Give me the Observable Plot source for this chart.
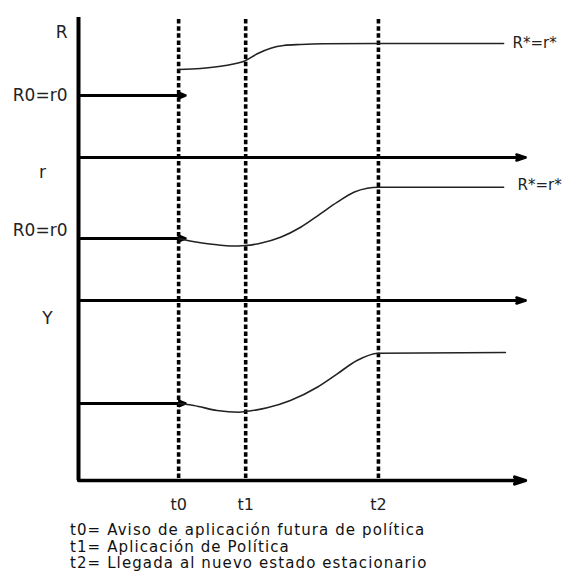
<!DOCTYPE html>
<html>
<head>
<meta charset="utf-8">
<script src="https://cdn.jsdelivr.net/npm/d3@7"></script>
<script src="https://cdn.jsdelivr.net/npm/@observablehq/plot@0.6"></script>
<style>
  body { margin: 0; background: #fff; }
  #chart svg { display: block; }
  #caption { margin: 7px 0 0 70px; font: 15px "DejaVu Sans", sans-serif; letter-spacing: 1.1px; line-height: 16.5px; color: #111; }
</style>
</head>
<body>
<div id="chart"></div>
<div id="caption"></div>
<script>
// ---- data ----
const tTimes = [22.4, 37.4, 67.1];
const tLabels = ["t0", "t1", "t2"];
const captionLines = [
  "t0= Aviso de aplicación futura de política",
  "t1= Aplicación de Política",
  "t2= Llegada al nuevo estado estacionario"
];

// Panel R
const R0 = 62;
const R_time  = [22.4, 27.3, 32.9, 37.4, 40.0, 43.0, 45.9, 49.7, 54.8, 67.1, 95.1];
const R_value = [88, 89, 92, 97, 103.7, 109.3, 112, 113, 113.7, 114, 114];

// Panel r
const r0 = 62;
const r_time  = [22.4, 23.6, 27.3, 31.0, 34.0, 37.4, 40.7, 45.2, 49.7, 54.1, 57.9, 61.6, 64.6, 67.1, 95.1];
const r_value = [62, 60.7, 57.7, 55.7, 54.5, 55, 57.3, 63.3, 73.3, 86.7, 98.3, 108.3, 112.3, 113.3, 113.3];

// Panel Y
const Y0 = 77;
const Y_time  = [22.4, 25.8, 31.0, 35.9, 37.4, 42.2, 47.4, 53.4, 57.9, 62.3, 67.0, 95.5];
const Y_value = [77, 75, 70, 68.3, 69, 72.7, 80, 93.3, 106.7, 120, 127.3, 128];

const baseEnd = 23.9;
const axisEnd = 100;

// ---- layout (panel offsets on the shared vertical scale) ----
const offY = 0, offr = 180, offR = 323, yTop = 463;

const curve = (t, v, off) => t.map((d, i) => ({t: d, v: v[i] + off}));

const textStyle = {fontSize: 17, fill: "#222", fontFamily: "DejaVu Sans"};
const starStyle = {fontSize: 15, fill: "#222", fontFamily: "DejaVu Sans"};

const plot = Plot.plot({
  width: 566,
  height: 515,
  marginLeft: 78,
  marginRight: 41,
  marginTop: 17,
  marginBottom: 35,
  x: {domain: [0, 100], axis: null},
  y: {domain: [0, yTop], axis: null},
  style: {fontFamily: "DejaVu Sans", background: "#fff"},
  marks: [
    // dashed event lines
    Plot.ruleX(tTimes, {y1: 2, y2: yTop, stroke: "black", strokeWidth: 3.6, strokeDasharray: "4.5,2.6"}),
    // horizontal axes with arrowheads
    Plot.arrow([offR, offr], {x1: 0, x2: axisEnd, y1: d => d, y2: d => d, stroke: "black", strokeWidth: 2.8, headLength: 5, headAngle: 35}),
    Plot.arrow([offY], {x1: 0, x2: axisEnd, y1: d => d, y2: d => d, stroke: "black", strokeWidth: 3.4, headLength: 5, headAngle: 35}),
    // vertical axis
    Plot.ruleX([0], {y1: 0, y2: yTop, stroke: "black", strokeWidth: 4}),
    // initial levels
    Plot.arrow([offR + R0, offr + r0, offY + Y0], {x1: 0, x2: baseEnd, y1: d => d, y2: d => d, stroke: "black", strokeWidth: 2.8, headLength: 3.5, headAngle: 45}),
    // paths
    Plot.line(curve(R_time, R_value, offR), {x: "t", y: "v", stroke: "#222", strokeWidth: 1.6, curve: "monotone-x"}),
    Plot.line(curve(r_time, r_value, offr), {x: "t", y: "v", stroke: "#222", strokeWidth: 1.6, curve: "monotone-x"}),
    Plot.line(curve(Y_time, Y_value, offY), {x: "t", y: "v", stroke: "#222", strokeWidth: 1.6, curve: "monotone-x"}),
    // left labels
    Plot.text(["R"], {x: 0, y: yTop - 15, dx: -11, textAnchor: "end", ...textStyle}),
    Plot.text(["R0=r0"], {x: 0, y: offR + R0, dx: -11, textAnchor: "end", ...textStyle}),
    Plot.text(["r"], {x: 0, y: offR - 15, dx: -36, textAnchor: "middle", ...textStyle}),
    Plot.text(["R0=r0"], {x: 0, y: offr + r0 + 8, dx: -11, textAnchor: "end", ...textStyle}),
    Plot.text(["Y"], {x: 0, y: offr - 18, dx: -31, textAnchor: "middle", ...textStyle}),
    // right labels
    Plot.text(["R*=r*"], {x: R_time[R_time.length - 1], y: offR + R_value[R_value.length - 1], dx: 9, textAnchor: "start", ...starStyle}),
    Plot.text(["R*=r*"], {x: r_time[r_time.length - 1], y: offr + r_value[r_value.length - 1] + 2, dx: 14, textAnchor: "start", ...starStyle}),
    // time tick labels
    Plot.text(tTimes, {x: d => d, y: -24, text: (d, i) => tLabels[i], fontSize: 16, fill: "#222", fontFamily: "DejaVu Sans"})
  ]
});
document.getElementById("chart").appendChild(plot);
document.getElementById("caption").innerHTML = captionLines.map(s => `<div>${s}</div>`).join("");
</script>
</body>
</html>
